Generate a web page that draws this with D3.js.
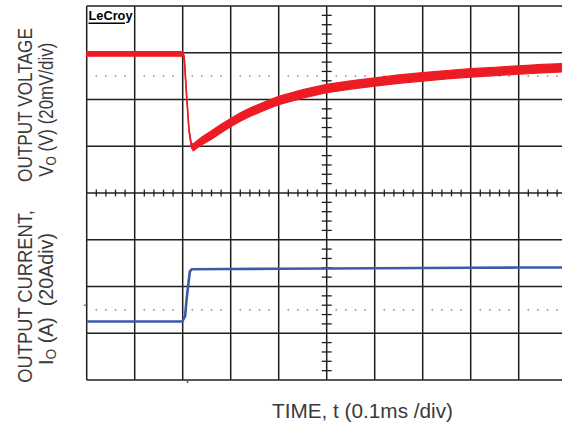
<!DOCTYPE html>
<html><head><meta charset="utf-8">
<script src="https://cdn.jsdelivr.net/npm/d3@7"></script>
<style>body{margin:0;background:#fff;overflow:hidden} svg{display:block}</style>
</head><body>
<svg id="chart" width="562" height="425"></svg>
<script>
// ---- data ----
const timeTicks = [0, 0.1, 0.2, 0.3, 0.4, 0.5, 0.6, 0.7, 0.8, 0.9, 1.0];      // ms (0.1 ms/div)
const voltTicks = [-140, -120, -100, -80, -60, -40, -20, 0, 20];            // mV rel. (20 mV/div)

const vTime  = [0, 0.05, 0.10, 0.15, 0.20, 0.203, 0.208, 0.213, 0.218, 0.222, 0.23, 0.24, 0.26, 0.28, 0.30, 0.32, 0.34, 0.36, 0.38, 0.40, 0.45, 0.50, 0.55, 0.60, 0.65, 0.70, 0.75, 0.80, 0.85, 0.90, 0.95, 1.00];
const vOut   = [-0.5, -0.5, -0.5, -0.5, -0.5, -1.6, -17.8, -32.8, -39.7, -40.5, -39.2, -37.7, -35.2, -32.4, -29.9, -27.5, -25.5, -23.7, -22.0, -20.4, -17.6, -15.3, -13.8, -12.5, -11.3, -10.3, -9.4, -8.6, -8.0, -7.4, -6.8, -6.3];
const vNoise = [1.0, 1.0, 1.0, 1.0, 1.0, 0.4, 0.3, 0.4, 1.0, 1.5, 1.6, 1.7, 1.8, 1.8, 1.8, 1.8, 1.8, 1.8, 1.8, 1.8, 1.8, 1.8, 1.8, 1.8, 1.8, 1.8, 1.8, 1.8, 1.8, 1.8, 1.8, 1.8];

const iTime = [0, 0.10, 0.199, 0.205, 0.208, 0.212, 0.215, 0.219, 0.30, 0.40, 0.50, 0.60, 0.70, 0.80, 0.90, 1.00];
const iOut  = [5, 5, 5, 7.2, 14.4, 21.5, 26.5, 27.4, 27.5, 27.6, 27.7, 27.8, 27.9, 28.0, 28.1, 28.1]; // A (20 A/div)

const vRefLevel = -10;   // mV, dotted reference
const iRefLevel = 10;    // A, dotted reference
const iMarker = 12;      // A, channel marker at left edge
const trigTime = 0.21;   // ms, trigger marker

const vLabel = ["OUTPUT VOLTAGE", "V", "O", " (V) (20mV/div)"];
const iLabel = ["OUTPUT CURRENT,", "I", "O", " (A)  (20Adiv)"];
const xLabel = "TIME, t (0.1ms /div)";
const brand = "LeCroy";

// ---- scales ----
const svg = d3.select("#chart");
const x  = d3.scaleLinear().domain([0, 1.0]).range([86.7, 566.7]);
const yV = d3.scaleLinear().domain([-140, 20]).range([380, 6]);
const yI = d3.scaleLinear().domain([-20, 140]).range([380, 6]);

const gridColor = "#1f1f1f";
const grid = svg.append("g");

// vertical grid lines
grid.selectAll(".vg").data(timeTicks).join("line")
  .attr("x1", d => x(d)).attr("x2", d => x(d))
  .attr("y1", yV(20)).attr("y2", yV(-140))
  .attr("stroke", gridColor).attr("stroke-width", 1.5);
// horizontal grid lines
grid.selectAll(".hg").data(voltTicks).join("line")
  .attr("x1", x(0)).attr("x2", x(1))
  .attr("y1", d => yV(d)).attr("y2", d => yV(d))
  .attr("stroke", gridColor).attr("stroke-width", 1.5);

// minor ticks on centre cross
const minorT = d3.range(0, 1.0001, 0.02).filter(d => Math.abs(d * 10 - Math.round(d * 10)) > 1e-6);
const minorV = d3.range(-140, 20.001, 4).filter(d => d % 20 !== 0);
grid.selectAll(".mt").data(minorT).join("line")
  .attr("x1", d => x(d)).attr("x2", d => x(d))
  .attr("y1", yV(-60) - 3.4).attr("y2", yV(-60) + 3.4)
  .attr("stroke", gridColor).attr("stroke-width", 1.3);
grid.selectAll(".mv").data(minorV).join("line")
  .attr("x1", x(0.5) - 5).attr("x2", x(0.5) + 5)
  .attr("y1", d => yV(d)).attr("y2", d => yV(d))
  .attr("stroke", gridColor).attr("stroke-width", 1.3);

// dotted reference lines
[yV(vRefLevel), yI(iRefLevel)].forEach(yy => {
  grid.append("g").selectAll("rect").data(minorT).join("rect")
    .attr("x", d => x(d) - 0.75).attr("y", yy - 0.75)
    .attr("width", 1.5).attr("height", 1.5).attr("fill", "#8a8a8a");
});

// markers
svg.append("line").attr("x1", x(0) - 3).attr("x2", x(0) + 1)
  .attr("y1", yI(iMarker)).attr("y2", yI(iMarker))
  .attr("stroke", "#4a5a80").attr("stroke-width", 1.2);
svg.append("line").attr("x1", x(trigTime)).attr("x2", x(trigTime))
  .attr("y1", yI(-20)).attr("y2", yI(-20) + 3)
  .attr("stroke", "#3c5aa6").attr("stroke-width", 1.5);

// voltage trace (noise band)
const vData = vTime.map((t, i) => ({t, v: vOut[i], n: vNoise[i]}));
svg.append("path").datum(vData)
  .attr("d", d3.area().x(d => x(d.t)).y0(d => yV(d.v - d.n)).y1(d => yV(d.v + d.n)))
  .attr("fill", "#ed1c24").attr("stroke", "#ed1c24").attr("stroke-width", 1.2);
svg.append("path").datum(vData)
  .attr("d", d3.line().x(d => x(d.t)).y(d => yV(d.v)))
  .attr("fill", "none").attr("stroke", "#ed1c24").attr("stroke-width", 1.6);

// current trace
const iData = iTime.map((t, i) => ({t, a: iOut[i]}));
svg.append("path").datum(iData)
  .attr("d", d3.line().x(d => x(d.t)).y(d => yI(d.a)))
  .attr("fill", "none").attr("stroke", "#3c5aa6").attr("stroke-width", 2.6);

// brand
svg.append("text").attr("x", 88.5).attr("y", 20)
  .attr("font-family", "Liberation Sans, Arial, sans-serif").attr("font-weight", "bold")
  .attr("font-size", 12).attr("textLength", 44).attr("lengthAdjust", "spacingAndGlyphs")
  .attr("fill", "#000").text(brand);
svg.append("line").attr("x1", 88.5).attr("x2", 125).attr("y1", 23.3).attr("y2", 23.3)
  .attr("stroke", "#000").attr("stroke-width", 1.5);

// labels
const font = "Liberation Sans, Arial, sans-serif";
const txtColor = "#3a3a3a";
function rotLabel(bx, cy, len) {
  return svg.append("text")
    .attr("transform", `translate(${bx},${cy}) rotate(-90)`)
    .attr("text-anchor", "middle").attr("font-family", font).attr("font-size", 20)
    .attr("fill", txtColor).attr("textLength", len).attr("lengthAdjust", "spacingAndGlyphs");
}
rotLabel(31.5, 105, 154).text(vLabel[0]);
{
  const t = rotLabel(53, 109.7, 134);
  t.append("tspan").text(vLabel[1]);
  t.append("tspan").attr("font-size", 14).attr("dy", 3).text(vLabel[2]);
  t.append("tspan").attr("dy", -3).text(vLabel[3]);
}
rotLabel(31.5, 296.4, 172.7).text(iLabel[0]);
{
  const t = rotLabel(53, 299, 132);
  t.append("tspan").text(iLabel[1]);
  t.append("tspan").attr("font-size", 14).attr("dy", 3).text(iLabel[2]);
  t.append("tspan").attr("dy", -3).style("white-space", "pre").text(iLabel[3]);
}
svg.append("text").attr("x", 362.5).attr("y", 418).attr("text-anchor", "middle")
  .attr("font-family", font).attr("font-size", 20).attr("fill", txtColor)
  .attr("textLength", 181).attr("lengthAdjust", "spacingAndGlyphs").text(xLabel);
</script>
</body></html>
